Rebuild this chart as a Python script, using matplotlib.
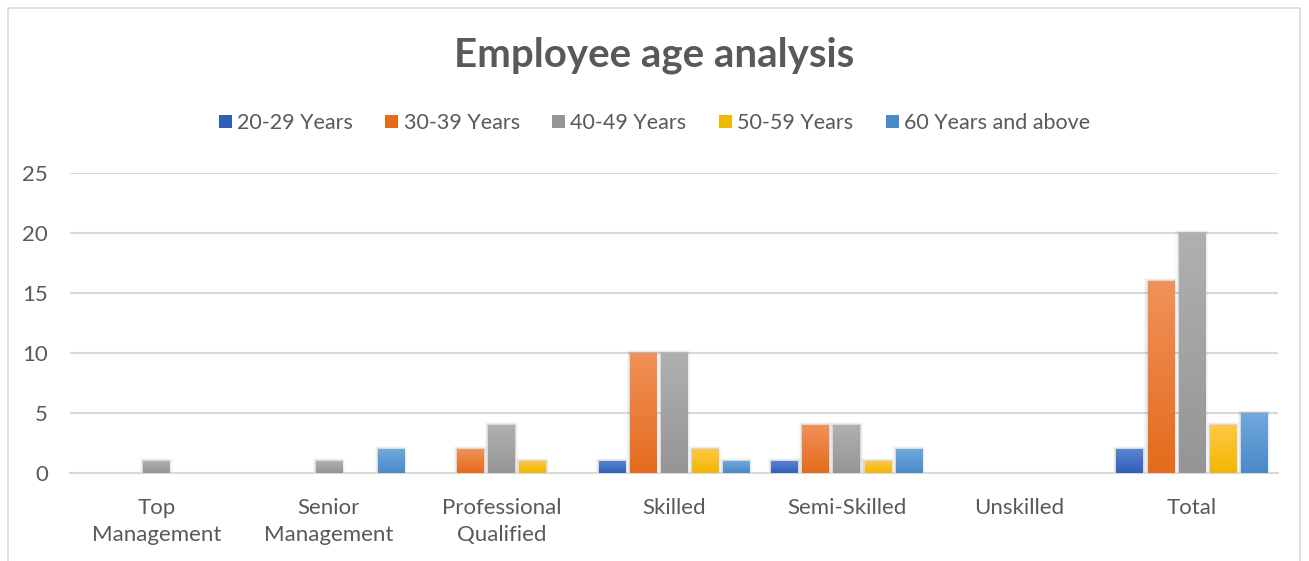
import matplotlib.pyplot as plt
import numpy as np
from matplotlib.colors import LinearSegmentedColormap, to_rgb
from matplotlib.patches import Rectangle

categories = ["Top\nManagement", "Senior\nManagement", "Professional\nQualified",
              "Skilled", "Semi-Skilled", "Unskilled", "Total"]
series_names = ["20-29 Years", "30-39 Years", "40-49 Years", "50-59 Years",
                "60 Years and above"]
age_20_29 = [0, 0, 0, 1, 1, 0, 2]
age_30_39 = [0, 0, 2, 10, 4, 0, 16]
age_40_49 = [1, 1, 4, 10, 4, 0, 20]
age_50_59 = [0, 0, 1, 2, 1, 0, 4]
age_60_up = [0, 2, 0, 1, 2, 0, 5]
y_ticks = [0, 5, 10, 15, 20, 25]

series = [age_20_29, age_30_39, age_40_49, age_50_59, age_60_up]
# (top, bottom) gradient colours, Office style
COLORS = [("#5b84d1", "#2f5fb8"),
          ("#f19158", "#e46b1c"),
          ("#b0b0b0", "#959595"),
          ("#ffc844", "#f0b800"),
          ("#6fa8dd", "#4a8ac8")]
TEXT = "#595959"
GRID = "#d9d9d9"

plt.rcParams["font.family"] = ["Lato", "DejaVu Sans"]

fig = plt.figure(figsize=(13.09, 5.61), dpi=100)
fig.patches.append(Rectangle((8 / 1309, -0.1), 1292 / 1309, 1.1 - 8 / 561,
                             transform=fig.transFigure, fill=False,
                             ec="#d9d9d9", lw=1.2))
ax = fig.add_axes([70 / 1309, 1 - 473 / 561, 1208 / 1309, 300 / 561])

x = np.arange(len(categories))
width = 0.152
step = 0.18
for i, vals in enumerate(series):
    offs = (i - 2) * step
    bars = ax.bar(x + offs, vals, width, color=COLORS[i][1], zorder=3,
                  label=series_names[i])
    cmap = LinearSegmentedColormap.from_list(f"g{i}", [to_rgb(COLORS[i][1]),
                                                       to_rgb(COLORS[i][0])])
    grad = np.linspace(0, 1, 64).reshape(-1, 1)
    for b in bars:
        h = b.get_height()
        if h <= 0:
            continue
        bx = b.get_x()
        bw = b.get_width()
        # soft shadow
        for k, a in enumerate([0.08, 0.05, 0.025]):
            d = 0.006 * (k + 1)
            ax.add_patch(Rectangle((bx - d, 0), bw + 2 * d, h + 0.08 * (k + 1),
                                   color="black", alpha=a, lw=0, zorder=2))
        ax.imshow(grad, extent=[bx, bx + bw, 0, h], origin="lower",
                  aspect="auto", cmap=cmap, zorder=4)

ax.set_xlim(-0.5, len(categories) - 0.5)
ax.set_ylim(0, 25)
ax.set_yticks(y_ticks)
ax.set_xticks(x)
ax.set_xticklabels(categories, fontsize=16, color=TEXT, linespacing=1.45)
ax.tick_params(axis="y", labelsize=16, labelcolor=TEXT, length=0, pad=16)
ax.tick_params(axis="x", length=0, pad=18)
ax.grid(axis="y", color=GRID, lw=1.5, zorder=0)
for s in ["top", "right", "left"]:
    ax.spines[s].set_visible(False)
ax.spines["bottom"].set_color(GRID)
ax.spines["bottom"].set_linewidth(1.5)

fig.text(0.5, 1 - 55 / 561, "Employee age analysis", ha="center", va="center",
         fontsize=29, fontweight="bold", color=TEXT)
handles = [Rectangle((0, 0), 1, 1, fc=c[1]) for c in COLORS]
fig.legend(handles, series_names, loc="center", bbox_to_anchor=(0.5, 1 - 123 / 561),
           ncol=5, frameon=False, fontsize=15.5, labelcolor=TEXT,
           handlelength=0.6, handleheight=0.6, handletextpad=0.25,
           columnspacing=1.5)

fig.savefig("out.png", dpi=100)
